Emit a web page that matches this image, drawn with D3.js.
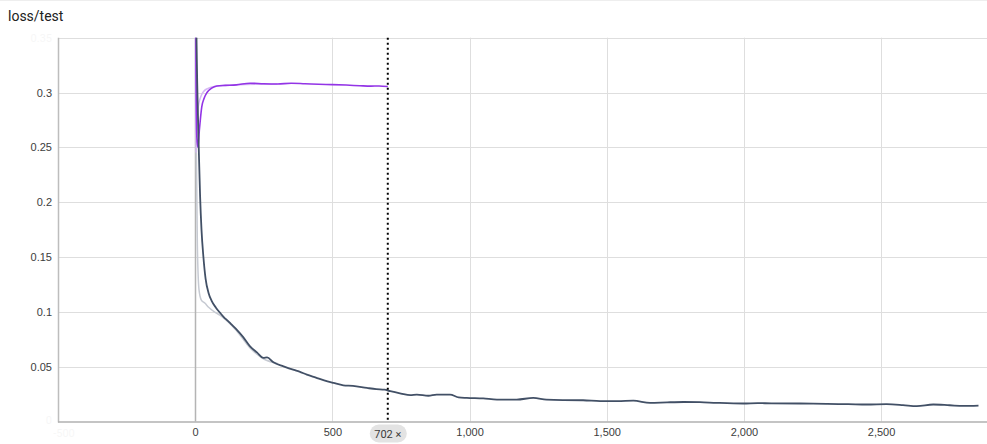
<!DOCTYPE html>
<html>
<head>
<meta charset="utf-8">
<script src="https://cdn.jsdelivr.net/npm/d3@7"></script>
<style>
  body { margin: 0; background: #fff; font-family: Roboto, 'Noto Sans', sans-serif; }
  .tick text { font-size: 11px; fill: #3c3c3c; }
</style>
</head>
<body>
<div class="chart"></div>
<script>
'use strict';

// loss/test, smoothed runs
var darkSteps = [0, 3, 6, 10, 14, 18, 23, 30, 38, 49, 60, 75, 91, 105, 115, 130, 152, 175, 200, 225, 249, 262, 285, 322, 360, 380, 407, 440, 470, 504, 540, 575, 626, 660, 690, 711, 750, 784, 808, 850, 880, 929, 960, 990, 1050, 1100, 1172, 1232, 1280, 1340, 1414, 1476, 1540, 1597, 1658, 1720, 1780, 1840, 1900, 1998, 2050, 2100, 2205, 2300, 2380, 2448, 2520, 2580, 2630, 2690, 2750, 2800, 2855];
var darkLoss = [0.60, 0.40, 0.33, 0.28, 0.24, 0.205, 0.175, 0.150, 0.130, 0.117, 0.110, 0.104, 0.099, 0.095, 0.0927, 0.089, 0.0836, 0.077, 0.0685, 0.063, 0.058, 0.0585, 0.054, 0.0503, 0.047, 0.0455, 0.0427, 0.040, 0.0375, 0.0352, 0.033, 0.0325, 0.0306, 0.0295, 0.029, 0.0276, 0.0255, 0.024, 0.0245, 0.0235, 0.0245, 0.0245, 0.022, 0.0215, 0.021, 0.020, 0.020, 0.0215, 0.020, 0.0195, 0.0194, 0.0185, 0.0185, 0.019, 0.017, 0.0175, 0.0178, 0.0176, 0.017, 0.0164, 0.0168, 0.0165, 0.0164, 0.016, 0.0158, 0.0155, 0.0158, 0.015, 0.014, 0.0155, 0.0148, 0.0142, 0.0145];

var purpleSteps = [0, 3, 6, 10, 15, 24, 33, 43, 60, 79, 110, 150, 200, 250, 300, 350, 400, 450, 500, 550, 600, 640, 670, 702];
var purpleLoss = [0.60, 0.32, 0.26, 0.25, 0.265, 0.287, 0.295, 0.300, 0.304, 0.306, 0.3065, 0.307, 0.3085, 0.308, 0.3078, 0.3085, 0.308, 0.3075, 0.3072, 0.3068, 0.3062, 0.3058, 0.306, 0.3055];

// raw (unsmoothed) traces, only visible near the start
var darkRawSteps = [0, 2, 4, 8, 14, 22, 35, 50, 70, 90, 115, 150, 200, 250, 300];
var darkRawLoss = [0.60, 0.35, 0.25, 0.16, 0.12, 0.111, 0.108, 0.104, 0.100, 0.097, 0.092, 0.083, 0.067, 0.057, 0.053];
var purpleRawSteps = [0, 1, 3, 6, 10, 20, 40, 80, 150, 300];
var purpleRawLoss = [0.60, 0.35, 0.245, 0.27, 0.285, 0.296, 0.303, 0.306, 0.307, 0.3078];

var yTicks = [0.05, 0.1, 0.15, 0.2, 0.25, 0.3];
var xTicks = [0, 500, 1000, 1500, 2000, 2500];
var cursorStep = 702;

var W = 987;
var H = 444;
var pLeft = 58, pRight = 987, pTop = 37.7, pBottom = 421.5;

var x = d3.scaleLinear().domain([-500, 2886]).range([pLeft, pRight]);
var y = d3.scaleLinear().domain([0, 0.35]).range([pBottom, pTop]);

var svg = d3.select('.chart').append('svg').attr('width', W).attr('height', H);

svg.append('line').attr('x1', 0).attr('x2', W).attr('y1', 0.5).attr('y2', 0.5).attr('stroke', '#eeeeee');

svg.append('text').attr('x', 8).attr('y', 21).attr('font-size', 14).attr('fill', '#212121').text('loss/test');

svg.append('clipPath').attr('id', 'clip').append('rect')
  .attr('x', pLeft).attr('y', pTop).attr('width', pRight - pLeft).attr('height', pBottom - pTop);

// grid
var grid = svg.append('g');
grid.selectAll('line.h').data(yTicks.concat([0.35])).enter().append('line')
  .attr('x1', pLeft).attr('x2', pRight).attr('y1', function (d) { return Math.round(y(d)) + 0.5; })
  .attr('y2', function (d) { return Math.round(y(d)) + 0.5; }).attr('stroke', '#dedede');
grid.selectAll('line.v').data(xTicks).enter().append('line')
  .attr('y1', pTop).attr('y2', pBottom).attr('x1', function (d) { return Math.round(x(d)) + 0.5; })
  .attr('x2', function (d) { return Math.round(x(d)) + 0.5; })
  .attr('stroke', function (d) { return d === 0 ? '#b4b4b4' : '#dedede'; })
  .attr('stroke-width', function (d) { return d === 0 ? 1.5 : 1; });

// axes
var yAxis = d3.axisLeft(y).tickValues(yTicks).tickSize(0).tickPadding(6).tickFormat(d3.format('~g'));
var xAxis = d3.axisBottom(x).tickValues(xTicks).tickSize(0).tickPadding(7).tickFormat(d3.format(',d'));

var gy = svg.append('g').attr('transform', 'translate(' + pLeft + ',0)').call(yAxis);
gy.select('.domain').remove();
var gx = svg.append('g').attr('transform', 'translate(0,' + pBottom + ')').call(xAxis);
gx.select('.domain').remove();

// faded edge labels
svg.append('text').attr('x', pLeft - 6).attr('y', y(0.35) + 4).attr('text-anchor', 'end')
  .attr('font-size', 11).attr('fill', '#3c3c3c').attr('opacity', 0.04).text('0.35');
svg.append('text').attr('x', pLeft - 6).attr('y', y(0) + 2).attr('text-anchor', 'end')
  .attr('font-size', 11).attr('fill', '#3c3c3c').attr('opacity', 0.04).text('0');
svg.append('text').attr('x', x(-500) + 6).attr('y', pBottom + 15).attr('text-anchor', 'middle')
  .attr('font-size', 11).attr('fill', '#3c3c3c').attr('opacity', 0.04).text('-500');

svg.append('line').attr('x1', pLeft + 0.5).attr('x2', pLeft + 0.5).attr('y1', pTop).attr('y2', pBottom + 1)
  .attr('stroke', '#bdbdbd').attr('stroke-width', 1.5);
svg.append('line').attr('x1', pLeft).attr('x2', pRight).attr('y1', pBottom + 0.5).attr('y2', pBottom + 0.5)
  .attr('stroke', '#b0b0b0').attr('stroke-width', 1.5);

var line = d3.line()
  .x(function (d) { return x(d[0]); })
  .y(function (d) { return y(d[1]); })
  .curve(d3.curveMonotoneX);

var plot = svg.append('g').attr('clip-path', 'url(#clip)');

var series = [
  { steps: darkRawSteps, vals: darkRawLoss, color: '#c6cad2', width: 1.5 },
  { steps: purpleRawSteps, vals: purpleRawLoss, color: '#d6b8f4', width: 1.5 },
  { steps: purpleSteps, vals: purpleLoss, color: '#9334e6', width: 1.6 },
  { steps: darkSteps, vals: darkLoss, color: '#425066', width: 1.8 }
];

series.forEach(function (s) {
  var pts = s.steps.map(function (st, i) { return [st, s.vals[i]]; });
  plot.append('path').datum(pts).attr('d', line).attr('fill', 'none')
    .attr('stroke', s.color).attr('stroke-width', s.width).attr('stroke-linejoin', 'round');
});

// hover cursor
svg.append('line').attr('x1', x(cursorStep)).attr('x2', x(cursorStep)).attr('y1', pTop).attr('y2', pBottom)
  .attr('stroke', '#000').attr('stroke-width', 2).attr('stroke-dasharray', '2,3');

var pill = svg.append('g').attr('transform', 'translate(' + x(cursorStep) + ',' + (pBottom + 12) + ')');
pill.append('rect').attr('x', -18).attr('y', -9).attr('width', 37).attr('height', 18).attr('rx', 9)
  .attr('fill', '#e3e3e3');
pill.append('text').attr('x', 0).attr('y', 4).attr('text-anchor', 'middle').attr('font-size', 11)
  .attr('fill', '#3c3c3c').text(cursorStep + ' \u00d7');
</script>
</body>
</html>
